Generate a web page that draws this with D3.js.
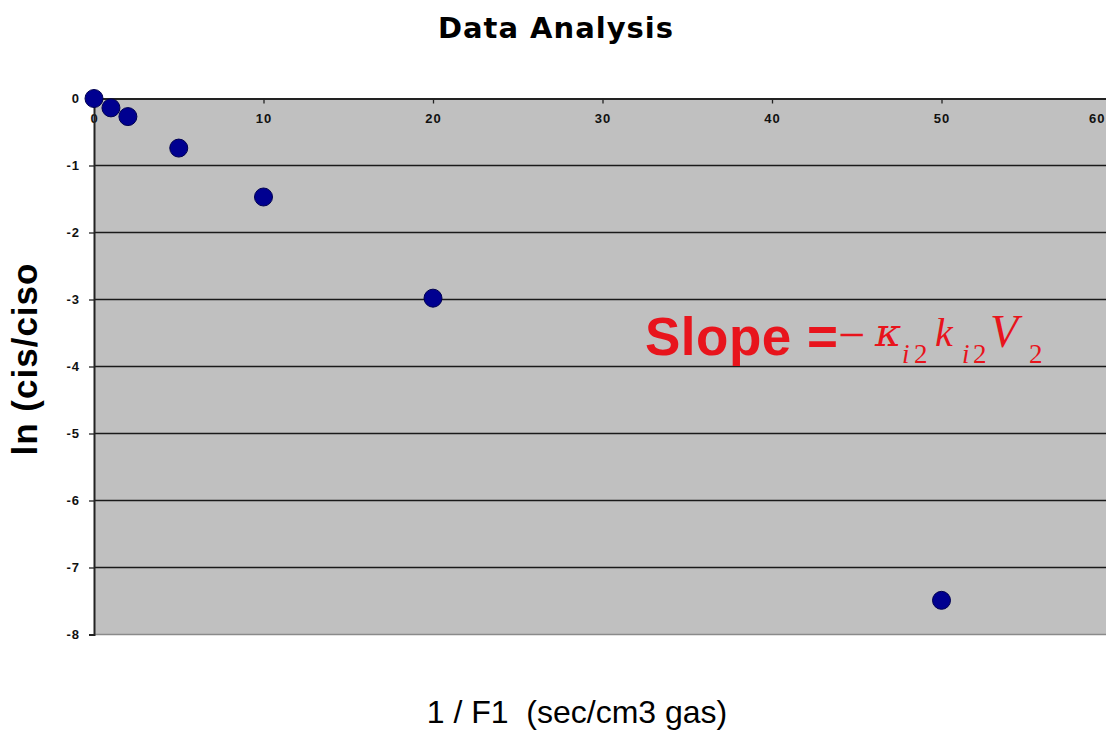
<!DOCTYPE html>
<html>
<head>
<meta charset="utf-8">
<script src="https://cdn.jsdelivr.net/npm/d3@7"></script>
<style>
  html, body { margin: 0; padding: 0; background: #fff; }
  svg { display: block; }
</style>
</head>
<body>
<div id="chart"></div>
<script>
// Data
const xValues = [0, 1, 2, 5, 10, 20, 50];
const yValues = [0, -0.14, -0.27, -0.74, -1.47, -2.98, -7.49];
const xTicks = [0, 10, 20, 30, 40, 50, 60];
const yTicks = [0, -1, -2, -3, -4, -5, -6, -7, -8];

const WIDTH = 1106, HEIGHT = 741;
const PLOT = { LEFT: 94, TOP: 98.5, RIGHT: 1111, BOTTOM: 634.5 };

const svg = d3.select("#chart").append("svg")
  .attr("width", WIDTH)
  .attr("height", HEIGHT);

const x = d3.scaleLinear().domain([0, 60]).range([PLOT.LEFT, PLOT.RIGHT]);
const y = d3.scaleLinear().domain([0, -8]).range([PLOT.TOP, PLOT.BOTTOM]);

// Title
svg.append("text")
  .attr("x", 556)
  .attr("y", 38)
  .attr("text-anchor", "middle")
  .style("font-family", "'DejaVu Sans', Verdana, sans-serif")
  .style("font-weight", "bold")
  .style("font-size", "29px")
  .style("letter-spacing", "1px")
  .text("Data Analysis");

// Plot background
svg.append("rect")
  .attr("x", x(0))
  .attr("y", y(0))
  .attr("width", x(60) - x(0))
  .attr("height", y(-8) - y(0))
  .attr("fill", "#c0c0c0");

// Horizontal grid lines
svg.append("g")
  .selectAll("line")
  .data(yTicks.filter(d => d < 0 && d > -8))
  .join("line")
    .attr("x1", x(0))
    .attr("x2", x(60))
    .attr("y1", d => y(d))
    .attr("y2", d => y(d))
    .attr("stroke", "#1a1a1a")
    .attr("stroke-width", 1.6);

// bottom edge of the plot area
svg.append("line")
  .attr("x1", x(0)).attr("x2", x(60))
  .attr("y1", y(-8)).attr("y2", y(-8))
  .attr("stroke", "#8a8a8a")
  .attr("stroke-width", 1.5);

// X axis sits on the top (y = 0)
const xAxis = svg.append("g")
  .attr("transform", "translate(0," + y(0) + ")")
  .call(d3.axisBottom(x).tickValues(xTicks).tickSize(5).tickPadding(10).tickFormat(d3.format("d")));

// Y axis
const yAxis = svg.append("g")
  .attr("transform", "translate(" + x(0) + ",0)")
  .call(d3.axisLeft(y).tickValues(yTicks).tickSize(5).tickPadding(9).tickFormat(d3.format("d")));

[xAxis, yAxis].forEach(g => {
  g.select(".domain").attr("stroke", "#222").attr("stroke-width", 2);
  g.selectAll(".tick line").attr("stroke", "#222").attr("stroke-width", 1.3);
  g.selectAll(".tick text")
    .attr("fill", "#111")
    .style("font-family", "'Liberation Sans', Arial, sans-serif")
    .style("font-weight", "bold")
    .style("font-size", "13px")
    .style("letter-spacing", "1px");
});
// Excel-style minus sign look
yAxis.selectAll(".tick text").text(d => d < 0 ? "-" + Math.abs(d) : d);
// the last label runs off the right edge in the original; keep it inside
xAxis.selectAll(".tick text").filter(d => d === 60)
  .attr("text-anchor", "end")
  .attr("x", WIDTH - x(60) - 1);

// Axis titles
svg.append("text")
  .attr("transform", "translate(37,359) rotate(-90)")
  .attr("text-anchor", "middle")
  .style("font-family", "'Liberation Sans', Arial, sans-serif")
  .style("font-weight", "bold")
  .style("font-size", "35px")
  .style("letter-spacing", "1px")
  .text("ln (cis/ciso");

svg.append("text")
  .attr("x", 577)
  .attr("y", 723)
  .attr("text-anchor", "middle")
  .style("font-family", "'Liberation Sans', Arial, sans-serif")
  .style("font-size", "32px")
  .attr("xml:space", "preserve")
  .style("white-space", "pre")
  .text("1 / F1  (sec/cm3 gas)");

// Data points
svg.append("g")
  .selectAll("circle")
  .data(xValues.map((d, i) => ({ x: d, y: yValues[i] })))
  .join("circle")
    .attr("cx", d => x(d.x))
    .attr("cy", d => y(d.y))
    .attr("r", 9)
    .attr("fill", "#000090")
    .attr("stroke", "#000050")
    .attr("stroke-width", 1);

// Slope annotation
const RED = "#e8141c";
svg.append("text")
  .attr("x", 645)
  .attr("y", 355)
  .attr("fill", RED)
  .style("font-family", "'Liberation Sans', Arial, sans-serif")
  .style("font-weight", "bold")
  .style("font-size", "53px")
  .style("letter-spacing", "0.5px")
  .text("Slope =");

const SERIF = "'Liberation Serif', 'Times New Roman', serif";
const mathParts = [
  { t: "\u2212", x: 838, y: 351, size: 48, italic: false, font: SERIF },
  { t: "\u03BA", x: 875, y: 346, size: 40, italic: true, font: "'DejaVu Serif', serif" },
  { t: "i", x: 902, y: 363, size: 27, italic: true, font: SERIF },
  { t: "2", x: 914, y: 363, size: 27, italic: false, font: SERIF },
  { t: "k", x: 935, y: 346, size: 40, italic: true, font: SERIF },
  { t: "i", x: 962, y: 363, size: 27, italic: true, font: SERIF },
  { t: "2", x: 973, y: 363, size: 27, italic: false, font: SERIF },
  { t: "V", x: 990, y: 347, size: 46, italic: true, font: SERIF },
  { t: "2", x: 1029, y: 363, size: 27, italic: false, font: SERIF }
];

svg.append("g")
  .selectAll("text")
  .data(mathParts)
  .join("text")
    .attr("x", d => d.x)
    .attr("y", d => d.y)
    .attr("fill", RED)
    .style("font-family", d => d.font)
    .style("font-style", d => d.italic ? "italic" : "normal")
    .style("font-size", d => d.size + "px")
    .text(d => d.t);
</script>
</body>
</html>
